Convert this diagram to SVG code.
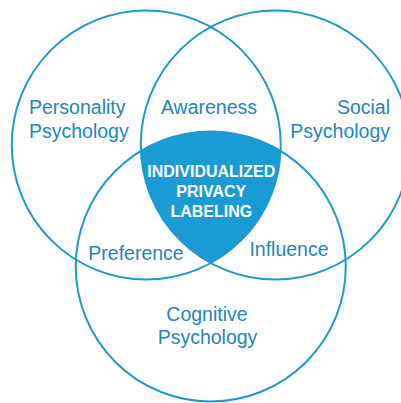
<svg xmlns="http://www.w3.org/2000/svg" width="401" height="403" viewBox="0 0 401 403">
<style>
.c{fill:none;stroke:#1c9ad3;stroke-width:2}
.t{font-family:"Liberation Sans",Arial,sans-serif;font-size:19.5px;fill:#2186bf}
.w{font-family:"Liberation Sans",Arial,sans-serif;font-size:16px;font-weight:bold;fill:#ffffff;text-anchor:middle}
</style>
<rect width="401" height="403" fill="#ffffff"/>
<g id="center-region">
<path d="M140.9 151 A135 135 0 0 1 280.6 151 A134.5 134.5 0 0 1 210.75 263 A134.5 134.5 0 0 1 140.9 151 Z" fill="#1b9bd4"/>
</g>
<g id="connectors">
<circle id="personality" class="c" cx="146.25" cy="145" r="134.5"/>
<circle id="social" class="c" cx="275.25" cy="145" r="134.5"/>
<circle id="cognitive" class="c" cx="210.75" cy="266.5" r="135"/>
</g>
<g id="labels">
<text class="t" x="29" y="114">Personality</text>
<text class="t" x="29" y="137.5">Psychology</text>
<text class="t" x="209" y="114" text-anchor="middle">Awareness</text>
<text class="t" x="390" y="114" text-anchor="end">Social</text>
<text class="t" x="390" y="137.5" text-anchor="end">Psychology</text>
<text class="t" x="136" y="259.5" text-anchor="middle">Preference</text>
<text class="t" x="289" y="256" text-anchor="middle">Influence</text>
<text class="t" x="207" y="320.5" text-anchor="middle">Cognitive</text>
<text class="t" x="207.5" y="344" text-anchor="middle">Psychology</text>
</g>
<g id="center-label">
<text class="w" x="211.3" y="177">INDIVIDUALIZED</text>
<text class="w" x="211.3" y="197">PRIVACY</text>
<text class="w" x="211.3" y="217">LABELING</text>
</g>
</svg>
